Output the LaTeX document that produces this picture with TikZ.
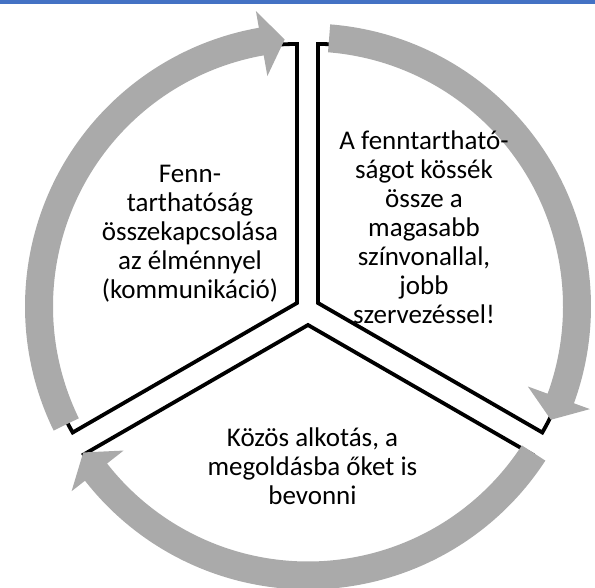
\documentclass[tikz,border=0pt]{standalone}
\usepackage{fontspec}
\setmainfont{Carlito}
\usepackage{tikz}
\usetikzlibrary{positioning}
\definecolor{bandgray}{HTML}{AAAAAA}
\definecolor{topblue}{HTML}{4472C4}

\begin{document}
\begin{tikzpicture}[
 x=1pt,y=1pt,
 slicebox/.style={draw=black,line width=3.8pt,fill=white},
 arrowband/.style={fill=bandgray,draw=none},
 cyclelabel/.style={align=center,inner sep=0pt,font=\fontsize{27}{29}\selectfont}
]
\useasboundingbox (0,0) rectangle (595,588);
\fill[topblue] (0,583.5) rectangle (595,588);
\draw[slicebox] (297,285) -- ++(90:259pt) arc[start angle=90,end angle=210,radius=259pt] -- cycle;
\draw[slicebox] (318,285) -- ++(-30:259pt) arc[start angle=-30,end angle=90,radius=259pt] -- cycle;
\draw[slicebox] (308,263) -- ++(210:259pt) arc[start angle=210,end angle=330,radius=259pt] -- cycle;
\begin{scope}[shift={(308,281.5)}]
\fill[arrowband] (206:283pt) arc[start angle=206,end angle=100,radius=283pt] -- (100:300pt) -- (95:268pt) -- (100:234pt) -- (100:255pt) arc[start angle=100,end angle=206,radius=255pt] -- cycle;
\fill[arrowband] (85.5:283pt) arc[start angle=85.5,end angle=-20,radius=283pt] -- (-20:300pt) -- (-25:268pt) -- (-20:234pt) -- (-20:255pt) arc[start angle=-20,end angle=85.5,radius=255pt] -- cycle;
\fill[arrowband] (-33:283pt) arc[start angle=-33,end angle=-142,radius=283pt] -- (-142:300pt) -- (-147:268pt) -- (-142:234pt) -- (-142:255pt) arc[start angle=-142,end angle=-33,radius=255pt] -- cycle;
\end{scope}
\node[cyclelabel] (experience) at (190,354.7) {Fenn-\\tarthatóság\\összekapcsolása\\az élménnyel\\(kommunikáció)};
\node[cyclelabel] (quality) at (424,360.5) {A fenntartható-\\ságot kössék\\össze a\\magasabb\\színvonallal,\\jobb\\szervezéssel!};
\node[cyclelabel] (cocreate) at (312.5,121.5) {Közös alkotás, a\\megoldásba őket is\\bevonni};
\end{tikzpicture}
\end{document}
